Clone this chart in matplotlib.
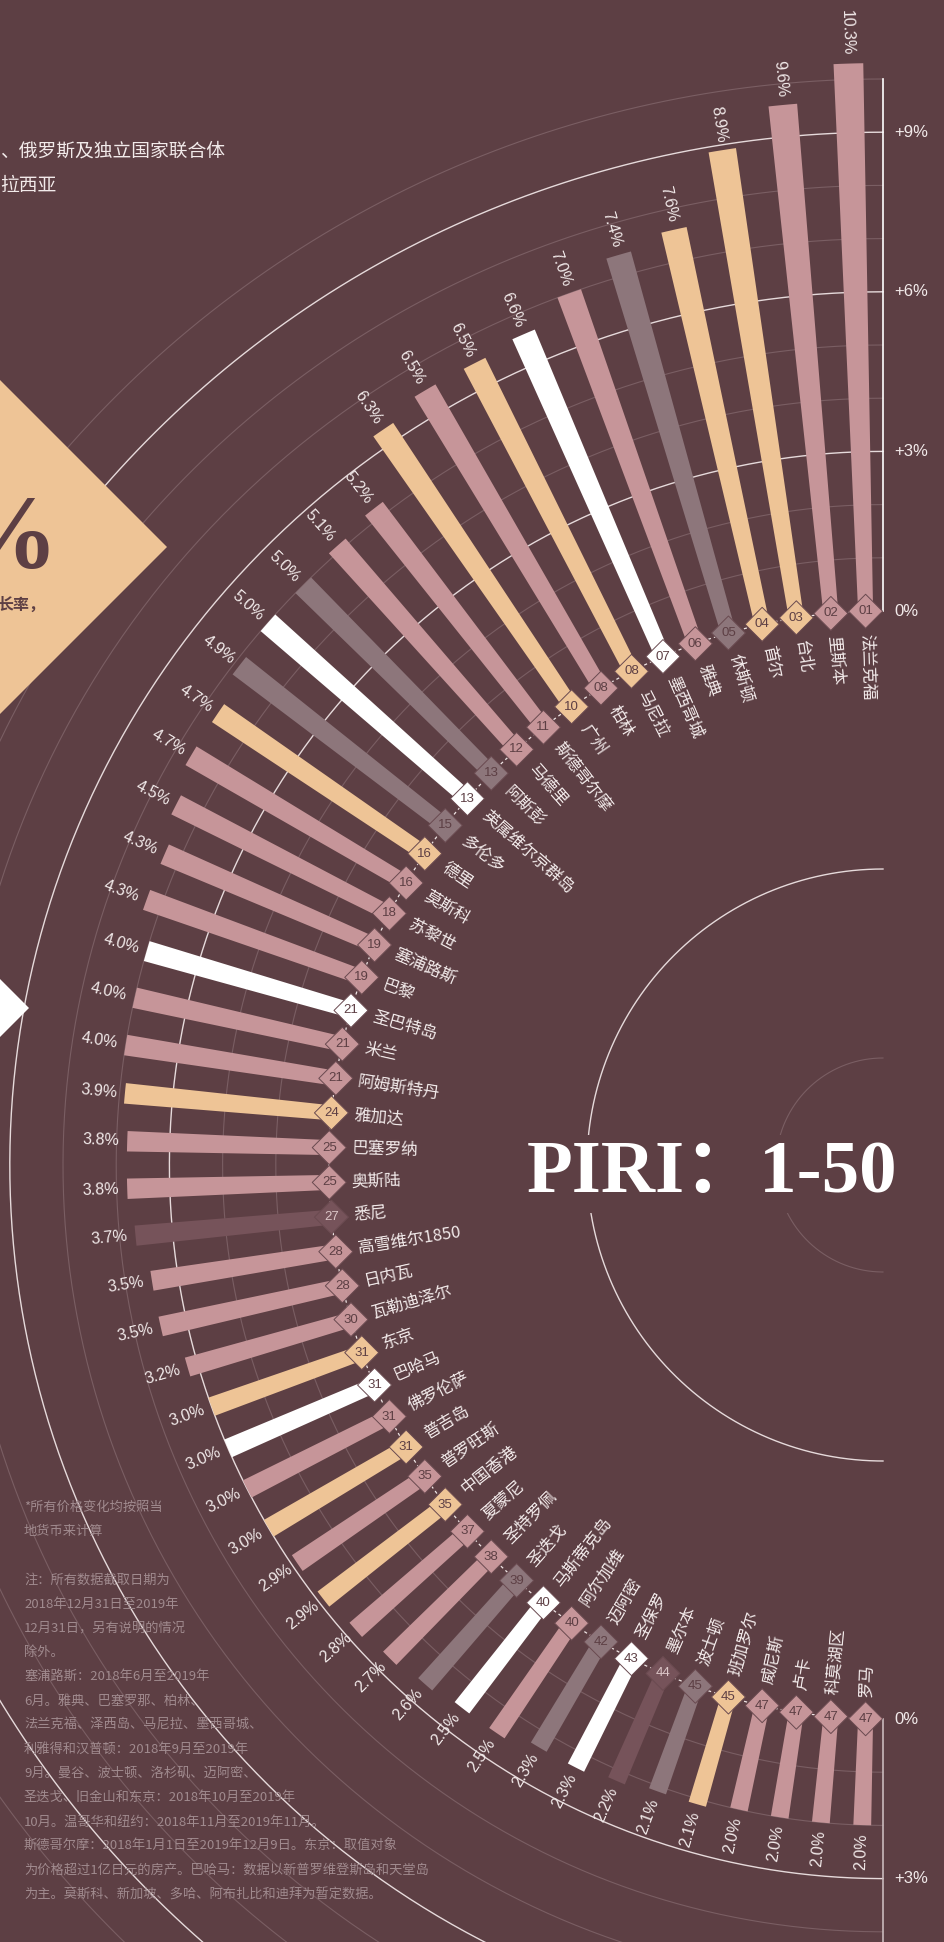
import numpy as np
import matplotlib.pyplot as plt
from matplotlib.patches import Polygon

plt.rcParams['font.family'] = ['Liberation Sans', 'Noto Sans CJK SC', 'DejaVu Sans']

# PIRI 1-50: city, price growth (%), rank, region colour group
cities = ['法兰克福', '里斯本', '台北', '首尔', '休斯顿', '雅典', '墨西哥城', '马尼拉', '柏林', '广州',
          '斯德哥尔摩', '马德里', '阿斯彭', '英属维尔京群岛', '多伦多', '德里', '莫斯科', '苏黎世', '塞浦路斯', '巴黎',
          '圣巴特岛', '米兰', '阿姆斯特丹', '雅加达', '巴塞罗纳', '奥斯陆', '悉尼', '高雪维尔1850', '日内瓦', '瓦勒迪泽尔',
          '东京', '巴哈马', '佛罗伦萨', '普吉岛', '普罗旺斯', '中国香港', '夏蒙尼', '圣特罗佩', '圣迭戈', '马斯蒂克岛',
          '阿尔加维', '迈阿密', '圣保罗', '墨尔本', '波士顿', '班加罗尔', '威尼斯', '卢卡', '科莫湖区', '罗马']
growth = [10.3, 9.6, 8.9, 7.6, 7.4, 7.0, 6.6, 6.5, 6.5, 6.3,
          5.2, 5.1, 5.0, 5.0, 4.9, 4.7, 4.7, 4.5, 4.3, 4.3,
          4.0, 4.0, 4.0, 3.9, 3.8, 3.8, 3.7, 3.5, 3.5, 3.2,
          3.0, 3.0, 3.0, 3.0, 2.9, 2.9, 2.8, 2.7, 2.6, 2.5,
          2.5, 2.3, 2.3, 2.2, 2.1, 2.1, 2.0, 2.0, 2.0, 2.0]
ranks = ['01', '02', '03', '04', '05', '06', '07', '08', '08', '10',
         '11', '12', '13', '13', '15', '16', '16', '18', '19', '19',
         '21', '21', '21', '24', '25', '25', '27', '28', '28', '30',
         '31', '31', '31', '31', '35', '35', '37', '38', '39', '40',
         '40', '42', '43', '44', '45', '45', '47', '47', '47', '47']
groups = ['eu', 'eu', 'as', 'as', 'na', 'eu', 'wh', 'as', 'eu', 'as',
          'eu', 'eu', 'na', 'wh', 'na', 'as', 'eu', 'eu', 'eu', 'eu',
          'wh', 'eu', 'eu', 'as', 'eu', 'eu', 'au', 'eu', 'eu', 'eu',
          'as', 'wh', 'eu', 'as', 'eu', 'as', 'eu', 'eu', 'na', 'wh',
          'eu', 'na', 'wh', 'au', 'na', 'as', 'eu', 'eu', 'eu', 'eu']

top_lines = ['、俄罗斯及独立国家联合体', '拉西亚']
notes_head = ['*所有价格变化均按照当', '地货币来计算']
notes = ['注：所有数据截取日期为',
         '2018年12月31日至2019年',
         '12月31日，另有说明的情况',
         '除外。',
         '塞浦路斯：2018年6月至2019年',
         '6月。雅典、巴塞罗那、柏林、',
         '法兰克福、泽西岛、马尼拉、墨西哥城、',
         '利雅得和汉普顿：2018年9月至2019年',
         '9月。曼谷、波士顿、洛杉矶、迈阿密、',
         '圣迭戈、旧金山和东京：2018年10月至2019年',
         '10月。温哥华和纽约：2018年11月至2019年11月。',
         '斯德哥尔摩：2018年1月1日至2019年12月9日。东京：取值对象',
         '为价格超过1亿日元的房产。巴哈马：数据以新普罗维登斯岛和天堂岛',
         '为主。莫斯科、新加坡、多哈、阿布扎比和迪拜为暂定数据。']

BG = '#5d3f44'
TXT = '#f2eaea'
GRID = '#7a5e63'
ARC = '#e6dadb'
colmap = {'eu': '#c69599', 'as': '#eec496', 'na': '#8d767b', 'wh': '#ffffff', 'au': '#76535a'}

W, H = 944, 1942
CX, CY = 883, 1165      # centre of the half ring in px (from top-left)
PX = 53.2               # px per 1 %
BASE = 554 / PX         # radius of the 0 % ring, in % units
RMAX = 12.5

fig = plt.figure(figsize=(W / 100, H / 100), dpi=100, facecolor=BG)
R = (RMAX + BASE) * PX
ax = fig.add_axes([(CX - R) / W, (H - CY - R) / H, 2 * R / W, 2 * R / H], projection='polar')
ax.set_axis_off()

n = len(cities)
theta = np.deg2rad(90 + 180 / n * (np.arange(n) + 0.5))
colors = [colmap[g] for g in groups]

# rings
arc = np.linspace(np.pi / 2, 3 * np.pi / 2, 500)
for r in range(1, 11):
    if r % 3 == 0:
        ax.plot(arc, np.full_like(arc, r), color=ARC, lw=1.0, zorder=1)
    else:
        ax.plot(arc, np.full_like(arc, r), color=GRID, lw=0.8, zorder=1)
ax.plot(arc, np.full_like(arc, 296 / PX - BASE), color=ARC, lw=1.0, zorder=1)
ax.plot(arc, np.full_like(arc, 107 / PX - BASE), color=GRID, lw=0.8, zorder=1)

# axis lines at top and bottom
ax.plot([np.pi / 2, np.pi / 2], [0, 10], color='white', lw=1.2, zorder=2)
ax.plot([3 * np.pi / 2, 3 * np.pi / 2], [0, RMAX], color='#c9b9bb', lw=1.2, zorder=2)
for v, s in [(0, '0%'), (3, '+3%'), (6, '+6%'), (9, '+9%')]:
    ax.annotate(s, xy=(np.pi / 2, v), xytext=(8, 0), textcoords='offset points',
                ha='left', va='center', fontsize=12, color=TXT)
for v, s in [(0, '0%'), (3, '+3%')]:
    ax.annotate(s, xy=(3 * np.pi / 2, v), xytext=(8, 0), textcoords='offset points',
                ha='left', va='center', fontsize=12, color=TXT)

ax.bar(theta, growth, width=0.027, bottom=0, color=colors, linewidth=0, zorder=3)
ax.plot(arc, np.zeros_like(arc), color='#f0e6e6', lw=0.9, ls=(0, (2.5, 2.5)), zorder=4)
ax.scatter(theta, np.zeros(n), s=300, marker='D', c=colors, edgecolors='#6a4a50',
           linewidths=0.7, zorder=5, clip_on=False)

for t, v, city, rk, g in zip(theta, growth, cities, ranks, groups):
    rot = (np.rad2deg(t) + 180) % 360
    ax.text(t, 0, rk, ha='center', va='center', fontsize=9.5, zorder=6,
            color='#dcc6c8' if g == 'au' else '#5d3f44')
    ax.text(t, v + 0.15, f'{v:.1f}%', rotation=rot, rotation_mode='anchor',
            ha='right', va='center', fontsize=11.5, color=TXT, zorder=6)
    ax.text(t, -0.42, city, rotation=rot, rotation_mode='anchor', ha='left', va='center',
            fontsize=12, color=TXT, family=['Noto Sans CJK SC'], zorder=6)

ax.set_ylim(-BASE, RMAX)

# overlay in pixel coordinates for the cut-off parts of the page
top = fig.add_axes([0, 0, 1, 1], zorder=5)
top.set_xlim(0, W)
top.set_ylim(H, 0)
top.set_axis_off()

top.add_patch(Polygon([(167, 547), (-150, 230), (-467, 547), (-150, 864)], closed=True,
                      facecolor='#eec496', edgecolor='none'))
top.text(58, 568, '0%', ha='right', va='baseline', fontsize=74, weight='bold',
         family=['Liberation Serif'], color=BG)
top.text(-3, 605, '长率，', ha='left', va='center', fontsize=11.5, weight='bold',
         family=['Noto Sans CJK SC'], color=BG)
top.add_patch(Polygon([(29, 1008), (-150, 829), (-150, 1187)], closed=True,
                      facecolor='white', edgecolor='none'))

for i, s in enumerate(top_lines):
    top.text(0, 151 + 34 * i, s, ha='left', va='center', fontsize=13.5,
             family=['Noto Sans CJK SC'], color=TXT)

NOTE = '#a08a8e'
for i, s in enumerate(notes_head):
    top.text(24, 1507 + 24.2 * i, s, ha='left', va='center', fontsize=9.5,
             family=['Noto Sans CJK SC'], color=NOTE)
for i, s in enumerate(notes):
    top.text(24, 1580 + 24.2 * i, s, ha='left', va='center', fontsize=9.5,
             family=['Noto Sans CJK SC'], color=NOTE)

top.text(712, 1192, 'PIRI：1-50', ha='center', va='baseline', fontsize=54, weight='bold',
         family=['Liberation Serif', 'Noto Sans CJK SC'], color='white',
         bbox=dict(facecolor=BG, edgecolor='none', pad=4))

fig.savefig('out.png', dpi=100, facecolor=BG)
